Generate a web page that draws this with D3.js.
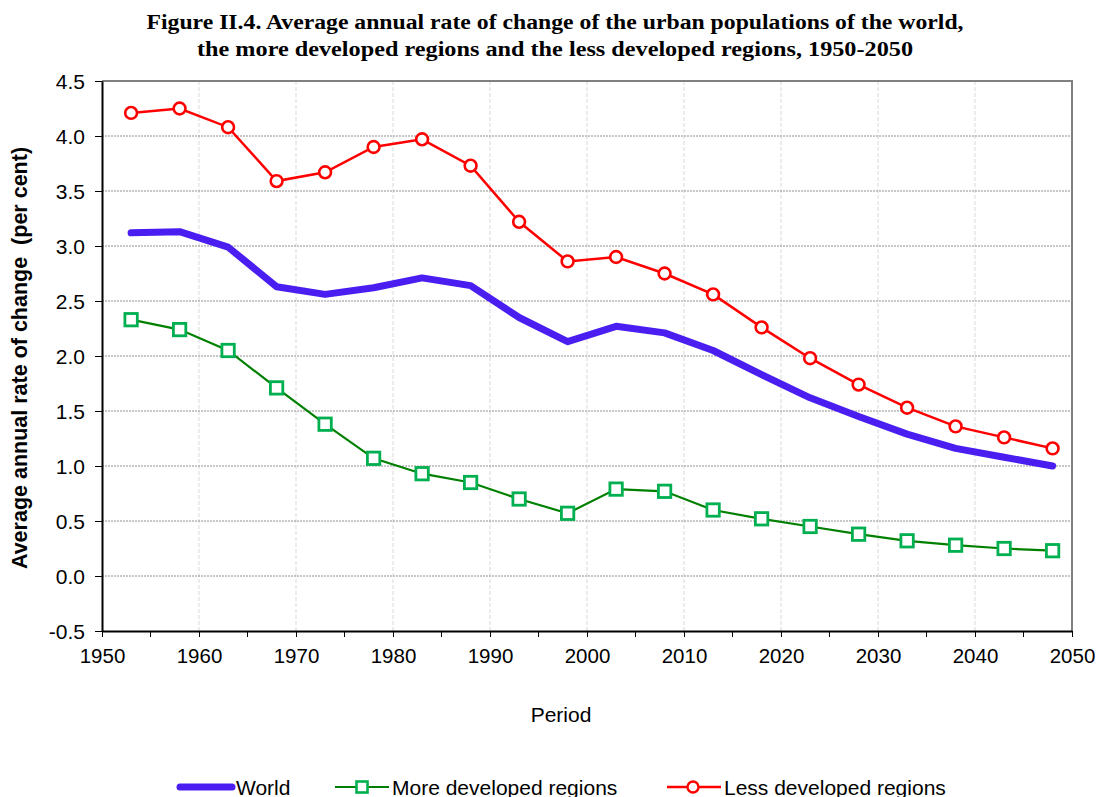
<!DOCTYPE html>
<html><head><meta charset="utf-8">
<script src="https://cdn.jsdelivr.net/npm/d3@7"></script>
<style>body{margin:0;background:#fff}</style>
</head><body>
<svg id="c" width="1101" height="797"></svg>
<script>
const years = [1953,1958,1963,1968,1973,1978,1983,1988,1993,1998,2003,2008,2013,2018,2023,2028,2033,2038,2043,2048];
const world = [3.12,3.13,2.99,2.63,2.56,2.62,2.71,2.64,2.35,2.13,2.27,2.21,2.05,1.83,1.62,1.45,1.29,1.16,1.08,1.00];
const moreDeveloped = [2.33,2.24,2.05,1.71,1.38,1.07,0.93,0.85,0.70,0.57,0.79,0.77,0.60,0.52,0.45,0.38,0.32,0.28,0.25,0.23];
const lessDeveloped = [4.21,4.25,4.08,3.59,3.67,3.90,3.97,3.73,3.22,2.86,2.90,2.75,2.56,2.26,1.98,1.74,1.53,1.36,1.26,1.16];
const xTicks = [1950,1960,1970,1980,1990,2000,2010,2020,2030,2040,2050];
const yTicks = [-0.5,0,0.5,1,1.5,2,2.5,3,3.5,4,4.5];
const titleLines = ["Figure II.4. Average annual rate of change of the urban populations of the world,","the more developed regions and the less developed regions, 1950-2050"];

const SANS = "Liberation Sans, Arial, sans-serif";
const svg = d3.select("#c");
const L=102, R=1072, T=81, B=631;
const x = d3.scaleLinear().domain([1950,2050]).range([L,R]);
const y = d3.scaleLinear().domain([-0.5,4.5]).range([B,T]);

// title
svg.append("g").selectAll("text").data(titleLines).join("text")
  .attr("x",555).attr("y",(d,i)=>29+i*27).attr("text-anchor","middle")
  .attr("font-family","Liberation Serif, Times New Roman, serif").attr("font-weight","bold").attr("font-size",20.5)
  .attr("textLength",(d,i)=>i===0?817:716).attr("lengthAdjust","spacingAndGlyphs")
  .text(d=>d);

// grid
svg.append("g").selectAll("line").data(xTicks.slice(1,-1)).join("line")
  .attr("x1",d=>x(d)).attr("x2",d=>x(d)).attr("y1",T).attr("y2",B)
  .attr("stroke","#e0e0e0").attr("stroke-width",1.2).attr("stroke-dasharray","4,2");
svg.append("g").selectAll("line").data(yTicks.slice(1,-1)).join("line")
  .attr("x1",L).attr("x2",R).attr("y1",d=>y(d)).attr("y2",d=>y(d))
  .attr("stroke","#909090").attr("stroke-width",1).attr("stroke-dasharray","2,1");

// frame top/right gray
svg.append("path").attr("d",`M${L},${T}H${R}V${B}`).attr("fill","none").attr("stroke","#808080").attr("stroke-width",2);

// axes
const fmtY = d => d3.format(".1f")(d).replace("\u2212","-");
const yAxis = d3.axisLeft(y).tickValues(yTicks).tickFormat(fmtY).tickSize(7).tickSizeOuter(0);
const gy = svg.append("g").attr("transform",`translate(${L},0)`).call(yAxis);
gy.select(".domain").attr("stroke","#000").attr("stroke-width",2);
gy.selectAll(".tick line").attr("stroke","#000");
gy.selectAll("text").attr("font-family",SANS).attr("font-size",21).attr("fill","#000").attr("dx",-7).attr("dy","0.36em");

const xAxis = d3.axisBottom(x).tickValues(xTicks).tickFormat(d3.format("d")).tickSize(6).tickSizeOuter(0);
const gx = svg.append("g").attr("transform",`translate(0,${B})`).call(xAxis);
gx.select(".domain").attr("stroke","#000").attr("stroke-width",2);
gx.selectAll(".tick line").attr("stroke","#000");
gx.selectAll("text").attr("font-family",SANS).attr("font-size",20.5).attr("fill","#000").attr("dy",0).attr("y",32);
const minor = d3.range(1955,2050,10);
svg.append("g").selectAll("line").data(minor).join("line")
  .attr("x1",d=>x(d)).attr("x2",d=>x(d)).attr("y1",B).attr("y2",B+6).attr("stroke","#000").attr("stroke-width",1);

// axis titles
svg.append("text").attr("transform",`translate(27,358) rotate(-90)`).attr("text-anchor","middle")
  .attr("font-family",SANS).attr("font-weight","bold").attr("font-size",21.5)
  .attr("xml:space","preserve").text("Average annual rate of change  (per cent)");
svg.append("text").attr("x",561).attr("y",722).attr("text-anchor","middle")
  .attr("font-family",SANS).attr("font-size",21).text("Period");

const line = d3.line().x(d=>x(d[0])).y(d=>y(d[1]));
const zip = v => years.map((yr,i)=>[yr,v[i]]);

// world
svg.append("path").attr("d",line(zip(world))).attr("fill","none").attr("stroke","#4A1EF0").attr("stroke-width",7).attr("stroke-linejoin","round").attr("stroke-linecap","round");
// more developed
svg.append("path").attr("d",line(zip(moreDeveloped))).attr("fill","none").attr("stroke","#008000").attr("stroke-width",2.2);
svg.append("g").selectAll("rect").data(zip(moreDeveloped)).join("rect")
  .attr("x",d=>x(d[0])-6.2).attr("y",d=>y(d[1])-6.2).attr("width",12.4).attr("height",12.4)
  .attr("fill","#fff").attr("stroke","#00B050").attr("stroke-width",2.8);
// less developed
svg.append("path").attr("d",line(zip(lessDeveloped))).attr("fill","none").attr("stroke","#FF0000").attr("stroke-width",2.5);
svg.append("g").selectAll("circle").data(zip(lessDeveloped)).join("circle")
  .attr("cx",d=>x(d[0])).attr("cy",d=>y(d[1])).attr("r",5.9)
  .attr("fill","#fff").attr("stroke","#FF0000").attr("stroke-width",2.6);

// legend
const ly = 787;
const lg = svg.append("g").attr("font-family",SANS).attr("font-size",21);
lg.append("line").attr("x1",180).attr("x2",232).attr("y1",ly).attr("y2",ly).attr("stroke","#4A1EF0").attr("stroke-width",7).attr("stroke-linecap","round");
lg.append("text").attr("x",236).attr("y",ly+7.5).text("World");
lg.append("line").attr("x1",335).attr("x2",389).attr("y1",ly).attr("y2",ly).attr("stroke","#008000").attr("stroke-width",2.2);
lg.append("rect").attr("x",356.5).attr("y",ly-5.5).attr("width",11).attr("height",11).attr("fill","#fff").attr("stroke","#00B050").attr("stroke-width",2.6);
lg.append("text").attr("x",392).attr("y",ly+7.5).text("More developed regions");
lg.append("line").attr("x1",667).attr("x2",721).attr("y1",ly).attr("y2",ly).attr("stroke","#FF0000").attr("stroke-width",2.5);
lg.append("circle").attr("cx",693).attr("cy",ly).attr("r",5.5).attr("fill","#fff").attr("stroke","#FF0000").attr("stroke-width",2.4);
lg.append("text").attr("x",724).attr("y",ly+7.5).text("Less developed regions");
</script>
</body></html>
